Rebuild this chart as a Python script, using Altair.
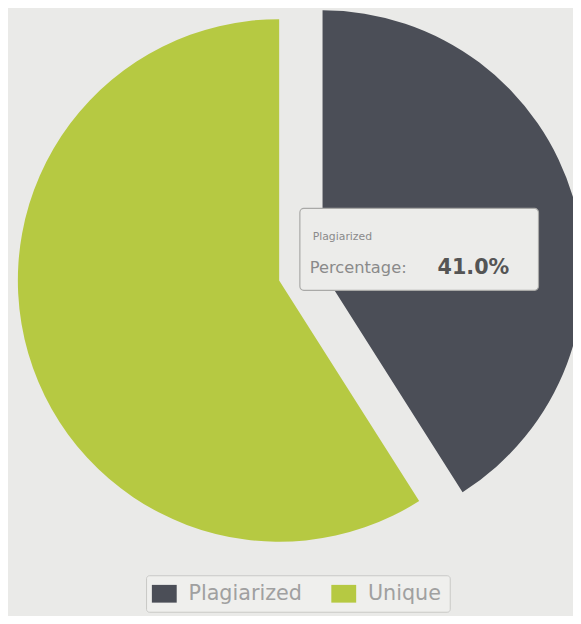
import altair as alt
import pandas as pd

categories = ["Plagiarized", "Unique"]
values = [41.0, 59.0]
order = [0, 1]
colors = ["#4b4e57", "#b6c942"]

df = pd.DataFrame({"category": categories, "value": values, "order": order})

base = alt.Chart(df).transform_stack(
    stack="value", groupby=[], as_=["v0", "v1"], sort=[alt.SortField("order")]
)

color = alt.Color(
    "category:N",
    scale=alt.Scale(domain=categories, range=colors),
    legend=alt.Legend(
        title=None,
        orient="none",
        legendX=140,
        legendY=571,
        direction="horizontal",
        strokeColor="#c8c8c6",
        fillColor="#efefed",
        cornerRadius=3,
        padding=8,
        symbolType="M-1.4,-1H1.4V1H-1.4Z",
        symbolSize=324,
        symbolStrokeWidth=0,
        symbolOpacity=1,
        labelFontSize=21,
        labelFont="DejaVu Sans",
        labelColor="#a0a0a0",
        labelOffset=14,
        columnPadding=28,
    ),
)
theta = alt.Theta("v0:Q", scale=alt.Scale(domain=[0, 100]))

unique = base.mark_arc(radius=265).encode(
    theta=theta, theta2="v1:Q", color=color
).transform_filter(alt.datum.category == "Unique")

plag = base.mark_arc(radius=265, xOffset=44, yOffset=-9).encode(
    theta=theta, theta2="v1:Q", color=color
).transform_filter(alt.datum.category == "Plagiarized")

tip = alt.Chart(df).transform_filter(alt.datum.category == "Plagiarized")

box = tip.mark_rect(
    fill="#ececea", stroke="#a9a9a7", strokeWidth=1.2, cornerRadius=4
).encode(x=alt.value(296), x2=alt.value(538), y=alt.value(199), y2=alt.value(282))

t1 = tip.mark_text(
    align="left", baseline="alphabetic", font="DejaVu Sans", fontSize=11, color="#8a8a8a"
).encode(x=alt.value(309), y=alt.value(231), text="category:N")

t2 = tip.mark_text(
    align="left", baseline="alphabetic", font="DejaVu Sans", fontSize=16.5, color="#8a8a8a"
).encode(x=alt.value(306), y=alt.value(264), text=alt.value("Percentage:"))

t3 = tip.transform_calculate(
    lab="format(datum.value, '.1f') + '%'"
).mark_text(
    align="center", baseline="alphabetic", font="DejaVu Sans", fontSize=21,
    fontWeight="bold", color="#555555"
).encode(x=alt.value(472), y=alt.value(265), text="lab:N")

chart = alt.layer(unique, plag, box, t1, t2, t3).properties(
    width=550,
    height=544,
    background="#eaeae8",
    autosize=alt.AutoSizeParams(type="none"),
    padding={"left": 0, "top": 0, "right": 23, "bottom": 64},
).configure_view(stroke=None)

chart.save("out.html", embed_options={"renderer": "svg", "actions": False})
